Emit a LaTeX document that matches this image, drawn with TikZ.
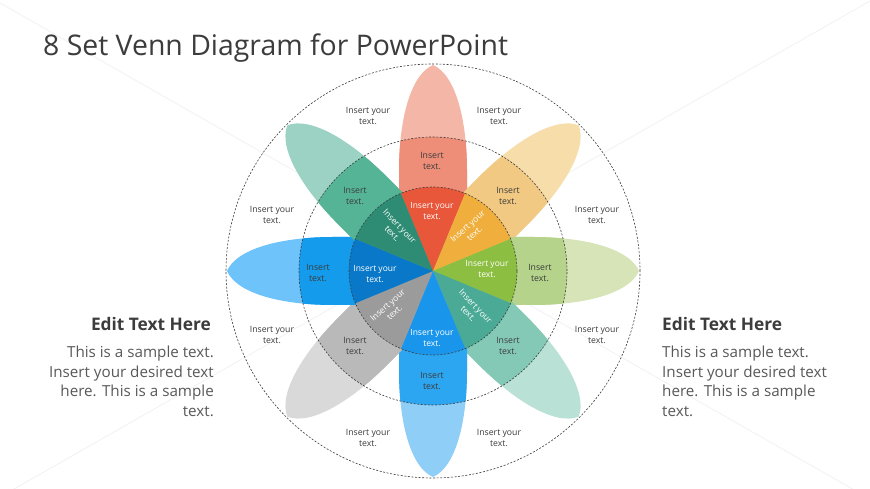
\documentclass[tikz,border=0pt]{standalone}
\usepackage{fontspec}
\setmainfont{Open Sans}
\definecolor{redL}{HTML}{F4B6A6}\definecolor{redM}{HTML}{EE8E78}\definecolor{redD}{HTML}{E9573A}
\definecolor{orgL}{HTML}{F6DDAA}\definecolor{orgM}{HTML}{F1C982}\definecolor{orgD}{HTML}{F0AF3C}
\definecolor{grnL}{HTML}{D6E4B8}\definecolor{grnM}{HTML}{B5D38A}\definecolor{grnD}{HTML}{8CBE41}
\definecolor{tlL}{HTML}{B9E1D6}\definecolor{tlM}{HTML}{84C9B6}\definecolor{tlD}{HTML}{4BAA96}
\definecolor{bbL}{HTML}{8FCEF6}\definecolor{bbM}{HTML}{2CA6F0}\definecolor{bbD}{HTML}{1996EB}
\definecolor{gyL}{HTML}{D9D9D9}\definecolor{gyM}{HTML}{B9B9B9}\definecolor{gyD}{HTML}{9B9B9B}
\definecolor{blL}{HTML}{6EC3FA}\definecolor{blM}{HTML}{149BEB}\definecolor{blD}{HTML}{0A78C8}
\definecolor{tgL}{HTML}{9BD2C3}\definecolor{tgM}{HTML}{55B496}\definecolor{tgD}{HTML}{2D8C73}
\definecolor{txt}{HTML}{3C3C3C}\definecolor{body}{HTML}{595959}
\begin{document}
\begin{tikzpicture}[x=1pt,y=1pt,
  dcirc/.style={draw=txt,line width=0.6pt,dash pattern=on 2pt off 1.6pt},
  lab/.style={font=\fontsize{8.7}{10.5}\selectfont,align=center,inner sep=0pt,text=txt},
  wlab/.style={font=\fontsize{8.5}{10.3}\selectfont,align=center,inner sep=0pt,text=white},
  head/.style={font=\fontsize{17.3}{20}\selectfont\bfseries,inner sep=0pt,text=txt},
  bodytxt/.style={font=\fontsize{15.2}{19}\selectfont,inner sep=0pt,text=body},
  petal/.pic={\fill[pic actions] (0,34) -- (100,34) .. controls (150,34) and (196,23) .. (206,0)
      .. controls (196,-23) and (150,-34) .. (100,-34) -- (0,-34) -- cycle;}]
\useasboundingbox (0,0) rectangle (870,489);
\fill[white] (0,0) rectangle (870,489);
% faint watermark lines
\draw[black!5,line width=0.8pt] (0,486) -- (870,-10);
\draw[black!5,line width=0.8pt] (0,-8) -- (870,488);
\begin{scope}[shift={(433,218)}]
  \foreach \a/\L in {90/redL,45/orgL,0/grnL,-45/tlL,-90/bbL,-135/gyL,180/blL,135/tgL}{
    \pic[fill=\L,rotate=\a] at (0,0) {petal};
  }
  \begin{scope}
    \clip (0,0) circle (134);
    \foreach \a/\M in {90/redM,45/orgM,0/grnM,-45/tlM,-90/bbM,-135/gyM,180/blM,135/tgM}{
      \pic[fill=\M,rotate=\a] at (0,0) {petal};
    }
  \end{scope}
  \foreach \a/\D in {90/redD,45/orgD,0/grnD,-45/tlD,-90/bbD,-135/gyD,180/blD,135/tgD}{
    \fill[\D] (0,0) -- ({\a-22.5}:84) arc[start angle={\a-22.5}, end angle={\a+22.5}, radius=84] -- cycle;
  }
  \draw[dcirc] (0,0) circle (84);
  \draw[dcirc] (0,0) circle (134);
  \draw[dcirc] (0,0) circle (207);
\end{scope}
% outer labels
\node[lab] (o1) at (368,373) {Insert your\\text.};
\node[lab] (o2) at (499,373) {Insert your\\text.};
\node[lab] (o3) at (272,274) {Insert your\\text.};
\node[lab] (o4) at (597,274) {Insert your\\text.};
\node[lab] (o5) at (272,154) {Insert your\\text.};
\node[lab] (o6) at (597,154) {Insert your\\text.};
\node[lab] (o7) at (368,51) {Insert your\\text.};
\node[lab] (o8) at (499,51) {Insert your\\text.};
% middle labels
\node[lab] (m1) at (432,328) {Insert\\text.};
\node[lab] (m2) at (508,293) {Insert\\text.};
\node[lab] (m3) at (540,216) {Insert\\text.};
\node[lab] (m4) at (508,143) {Insert\\text.};
\node[lab] (m5) at (432,108) {Insert\\text.};
\node[lab] (m6) at (355,143) {Insert\\text.};
\node[lab] (m7) at (318,216) {Insert\\text.};
\node[lab] (m8) at (355,293) {Insert\\text.};
% inner labels
\node[wlab] (i1) at (432,278) {Insert your\\text.};
\node[wlab,rotate=42] (i2) at (471,259) {Insert your\\text.};
\node[wlab] (i3) at (487,220) {Insert your\\text.};
\node[wlab,rotate=-46] (i4) at (472,179) {Insert your\\text.};
\node[wlab] (i5) at (432,151) {Insert your\\text.};
\node[wlab,rotate=42] (i6) at (391,180) {Insert your\\text.};
\node[wlab] (i7) at (375,215) {Insert your\\text.};
\node[wlab,rotate=-46] (i8) at (396,259) {Insert your\\text.};
% title
\node[anchor=base west,inner sep=0pt,text=txt,font=\fontsize{28.4}{32}\selectfont] (title) at (43,433) {8 Set Venn Diagram for PowerPoint};
% left text
\node[head,anchor=base east] (lh) at (211,158) {Edit Text Here};
\node[bodytxt,anchor=base east] (lb1) at (214,131) {This is a sample text.};
\node[bodytxt,anchor=base east] (lb2) at (214,111.5) {Insert your desired text};
\node[bodytxt,anchor=base east] (lb3) at (214,92) {here. This is a sample};
\node[bodytxt,anchor=base east] (lb4) at (214,72.5) {text.};
% right text
\node[head,anchor=base west] (rh) at (662,158) {Edit Text Here};
\node[bodytxt,anchor=base west] (rb1) at (662,131) {This is a sample text.};
\node[bodytxt,anchor=base west] (rb2) at (662,111.5) {Insert your desired text};
\node[bodytxt,anchor=base west] (rb3) at (662,92) {here. This is a sample};
\node[bodytxt,anchor=base west] (rb4) at (662,72.5) {text.};
\end{tikzpicture}
\end{document}
